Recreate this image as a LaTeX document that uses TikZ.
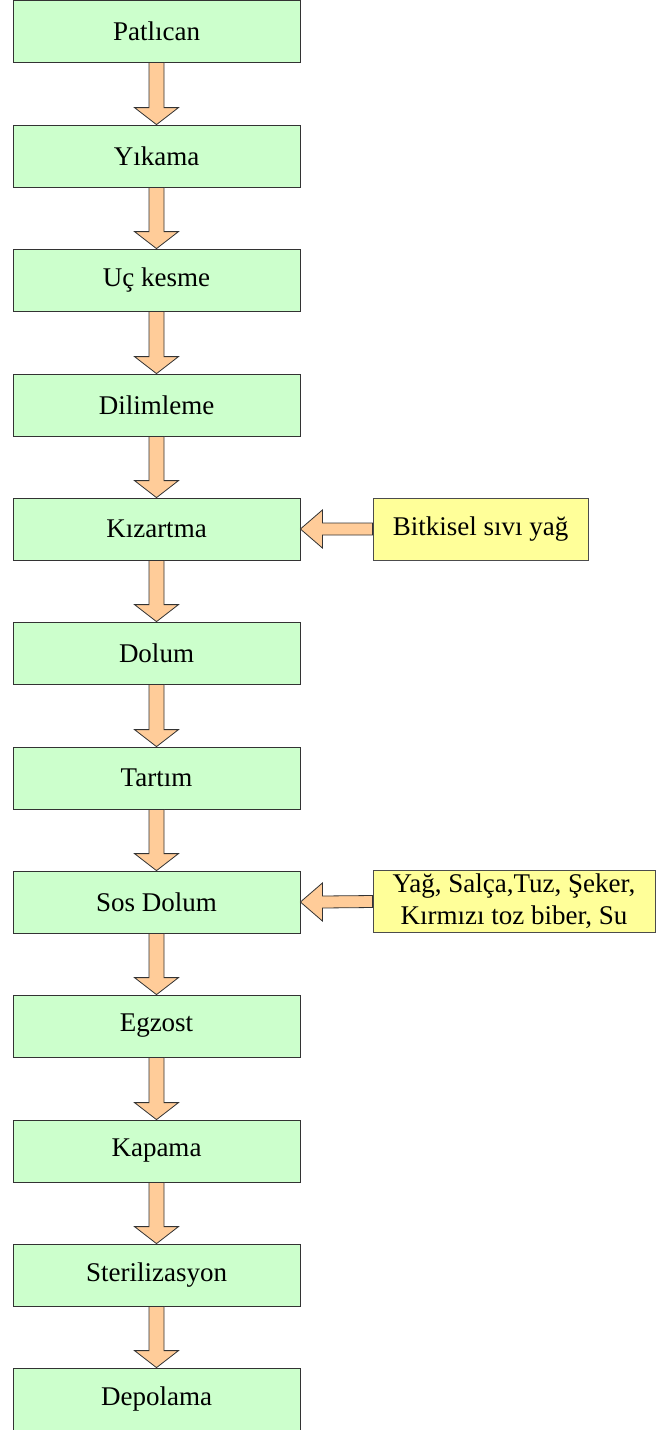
\documentclass[tikz,border=0pt]{standalone}
\usepackage{fontspec}
\setmainfont{Liberation Serif}
\usetikzlibrary{calc}
\definecolor{stepg}{RGB}{204,255,204}
\definecolor{inpy}{RGB}{255,255,153}
\definecolor{arrf}{RGB}{255,204,153}
\tikzset{
  % ana adim kutusu
  stepbox/.style={rectangle, draw=black!80, line width=0.8pt, fill=stepg,
                  minimum width=287pt, minimum height=62pt, inner sep=0pt,
                  font=\fontsize{27}{32}\selectfont},
  % yan girdi kutusu
  inbox/.style={rectangle, draw=black!70, line width=0.8pt, fill=inpy,
                minimum height=62pt, inner sep=0pt, align=center,
                font=\fontsize{27}{32}\selectfont},
  blk/.style={draw=black!80, line width=0.8pt, fill=arrf}
}
% blok oklar (asagi ve sola)
\newcommand{\blkdown}[2]{%
  \draw[blk] ($(#1.south)+(-7.5,0)$) -- ($(#2.north)+(-7.5,17)$) -- ($(#2.north)+(-22,17)$)
    -- (#2.north) -- ($(#2.north)+(22,17)$) -- ($(#2.north)+(7.5,17)$)
    -- ($(#1.south)+(7.5,0)$) -- cycle;}
\newcommand{\blkleft}[2]{%
  \draw[blk] ($(#1.west)+(0,6)$) -- ($(#2.east)+(22,6)$) -- ($(#2.east)+(22,19)$)
    -- (#2.east) -- ($(#2.east)+(22,-19)$) -- ($(#2.east)+(22,-6)$)
    -- ($(#1.west)+(0,-6)$) -- cycle;}
\begin{document}
\begin{tikzpicture}[x=1pt,y=1pt]
  \useasboundingbox (0,0) rectangle (658,-1430);
  % ---- ana akis ----
  \node[stepbox] (s1)  at (156.5,-31)   {Patlıcan};
  \node[stepbox] (s2)  at (156.5,-156)  {Yıkama};
  \node[stepbox] (s3)  at (156.5,-280)  {Uç kesme};
  \node[stepbox] (s4)  at (156.5,-405)  {Dilimleme};
  \node[stepbox] (s5)  at (156.5,-529)  {Kızartma};
  \node[stepbox] (s6)  at (156.5,-653)  {Dolum};
  \node[stepbox] (s7)  at (156.5,-778)  {Tartım};
  \node[stepbox] (s8)  at (156.5,-902)  {Sos Dolum};
  \node[stepbox] (s9)  at (156.5,-1026) {Egzost};
  \node[stepbox] (s10) at (156.5,-1151) {Kapama};
  \node[stepbox] (s11) at (156.5,-1275) {Sterilizasyon};
  \node[stepbox] (s12) at (156.5,-1399) {Depolama};

  \foreach \i [evaluate=\i as \j using int(\i+1)] in {1,...,11}
    {\blkdown{s\i}{s\j}}

  % ---- yan girdiler ----
  \node[inbox, minimum width=215pt] (yag) at (480.5,-529) {Bitkisel sıvı yağ};
  \node[inbox, minimum width=282pt] (sos) at (514,-901.5)
    {Yağ, Salça,Tuz, Şeker,\\Kırmızı toz biber, Su};
  \blkleft{yag}{s5}
  \blkleft{sos}{s8}
\end{tikzpicture}
\end{document}
